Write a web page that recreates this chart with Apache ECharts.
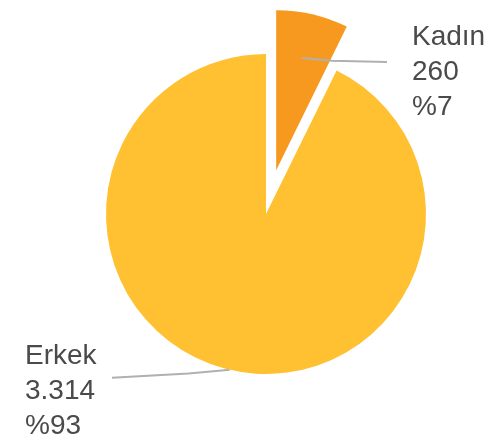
<!DOCTYPE html>
<html>
<head>
<meta charset="utf-8">
<script src="https://cdn.jsdelivr.net/npm/echarts@6/dist/echarts.min.js"></script>
<style>
  html, body { margin: 0; padding: 0; background: #fff; }
  #chart { width: 484px; height: 442px; }
</style>
</head>
<body>
<div id="chart"></div>
<script type="text/javascript">
// data
var categories = ['Kadın', 'Erkek'];
var values = [260, 3314];
var colors = ['#F7991F', '#FFC132'];
var pulledOut = [true, false];

// layout
var CX = 266, CY = 214, R = 160, OFFSET = 45;
var labelX = [412, 25];
var labelY = [72, 391];
var lineEndX = [387, 112];
var lineEndDy = [4, 8];
var lineStartRatio = [0.72, 1.0];
var lineBend = [0.67, 0.45];

var total = values.reduce(function (a, b) { return a + b; }, 0);
var NONE = 'rgba(0,0,0,0)';

function midAngle(idx) {
  var start = 90;
  for (var i = 0; i < idx; i++) start -= 360 * values[i] / total;
  return (start - 180 * values[idx] / total) * Math.PI / 180;
}

function fmtNum(v) {
  return String(v).replace(/\B(?=(\d{3})+(?!\d))/g, '.');
}

// pulled-out slice is drawn by a second pie whose centre moves along its mid angle
var pullIdx = pulledOut.indexOf(true);
var pa = midAngle(pullIdx);
var pulledCenter = [CX + OFFSET * Math.cos(pa), CY - OFFSET * Math.sin(pa)];

function makeData(showPulled) {
  return categories.map(function (name, i) {
    var visible = pulledOut[i] === showPulled;
    return {
      name: name,
      value: values[i],
      itemStyle: { color: visible ? colors[i] : NONE }
    };
  });
}

var base = {
  type: 'pie',
  radius: R,
  startAngle: 90,
  clockwise: true,
  silent: true,
  emphasis: { disabled: true }
};

var chart = echarts.init(document.getElementById('chart'));
chart.setOption({
  animation: false,
  series: [
    Object.assign({}, base, {
      z: 1,
      center: pulledCenter,
      data: makeData(true),
      label: { show: false },
      labelLine: { show: false }
    }),
    Object.assign({}, base, {
      z: 3,
      center: [CX, CY],
      data: makeData(false),
      label: {
        show: true,
        position: 'outside',
        fontFamily: 'Liberation Sans, Arial, sans-serif',
        fontSize: 28,
        lineHeight: 35,
        color: '#4a4a4a',
        formatter: function (p) {
          return p.name + '\n' + fmtNum(p.value) + '\n%' + Math.round(p.percent);
        }
      },
      labelLine: {
        show: true,
        lineStyle: { color: '#b0b0b0', width: 2 }
      },
      labelLayout: function (params) {
        var i = params.dataIndex;
        var a = midAngle(i);
        var off = pulledOut[i] ? OFFSET : 0;
        var ox = CX + off * Math.cos(a), oy = CY - off * Math.sin(a);
        var sx = ox + R * lineStartRatio[i] * Math.cos(a);
        var sy = oy - R * lineStartRatio[i] * Math.sin(a);
        var ey = sy + lineEndDy[i];
        var mx = sx + (lineEndX[i] - sx) * 0.35;
        return {
          x: labelX[i],
          y: labelY[i],
          align: 'left',
          verticalAlign: 'middle',
          labelLinePoints: [[sx, sy], [mx, sy + lineBend[i] * (ey - sy)], [lineEndX[i], ey]]
        };
      }
    })
  ]
});
</script>
</body>
</html>
